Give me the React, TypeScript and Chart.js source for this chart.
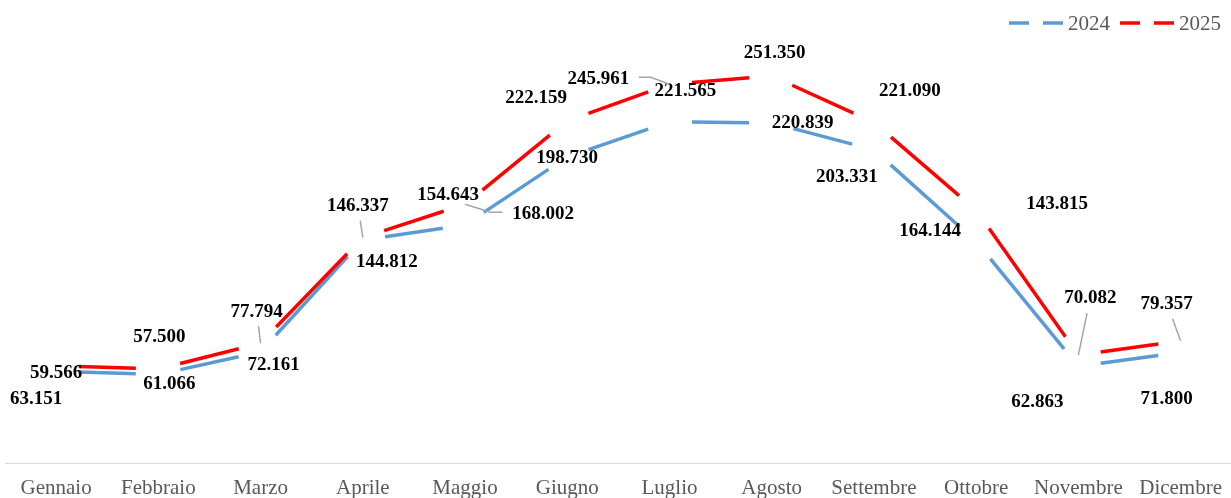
import React, { useEffect, useRef } from 'react';
import { Chart, registerables } from 'chart.js';

Chart.register(...registerables);

// ---------- data ----------
const months = ['Gennaio', 'Febbraio', 'Marzo', 'Aprile', 'Maggio', 'Giugno', 'Luglio', 'Agosto', 'Settembre', 'Ottobre', 'Novembre', 'Dicembre'];
const seriesNames = ['2024', '2025'];
const values2024 = [59566, 57500, 72161, 144812, 154643, 198730, 221565, 220839, 203331, 143815, 62863, 71800];
const values2025 = [63151, 61066, 77794, 146337, 168002, 222159, 245961, 251350, 221090, 164144, 70082, 79357];
const yMin = 0;
const yMax = 300000;

// ---------- label placement (pixel offsets from each point) ----------
const labelOffsets2024 = [[0, 0], [1, -39], [13, 12], [24, 21], [-17, -31], [0, 0], [16, -32], [31, -1], [-27, 26], [81, -39], [-41, 34], [-14, 45]];
const labelOffsets2025 = [[-20, 32], [11, 14], [-4, -33], [-5, -33], [78, 8], [-31, -24], [-71, -7], [3, -24], [36, -33], [-46, 19], [12, -58], [-14, -38]];
const leaders2024 = [false, false, false, false, false, false, false, false, false, false, false, false];
const leaders2025 = [false, false, true, true, true, false, true, false, false, false, true, true];

// ---------- styles ----------
const colors = ['#5B9BD5', '#FF0000'];
const axisTextColor = '#595959';
const labelFont = 'bold 19px "Liberation Serif", "Times New Roman", serif';
const legendFont = '21px "Liberation Serif", "Times New Roman", serif';
const GAP = 22.5;
const LABEL_BASELINE_SHIFT = 1.5;
const LEGEND_RIGHT = 1221;

const fmt = (n: number) => String(n).replace(/\B(?=(\d{3})+(?!\d))/g, '.');

const gapDash = (ctx: any) => {
  const dx = ctx.p1.x - ctx.p0.x;
  const dy = ctx.p1.y - ctx.p0.y;
  const L = Math.hypot(dx, dy);
  if (L <= 2 * GAP) return [0, L + 1];
  return [0, GAP, L - 2 * GAP, GAP];
};

const labelsPlugin = {
  id: 'customLabels',
  afterDatasetsDraw(chart: any) {
    const ctx = chart.ctx;
    const offsets = [labelOffsets2024, labelOffsets2025];
    const leaders = [leaders2024, leaders2025];
    const data = [values2024, values2025];
    ctx.save();
    ctx.font = labelFont;
    ctx.textAlign = 'center';
    ctx.textBaseline = 'middle';
    for (let d = 0; d < 2; d++) {
      const meta = chart.getDatasetMeta(d);
      meta.data.forEach((pt: any, i: number) => {
        const [ox, oy] = offsets[d][i];
        const cx = pt.x + ox;
        const cy = pt.y + oy;
        const text = fmt(data[d][i]);
        const w = ctx.measureText(text).width;
        if (leaders[d][i]) {
          const hw = w / 2 + 9.5;
          const hh = 16;
          const dx = pt.x - cx;
          const dy = pt.y - cy;
          const tx = Math.abs(dx) > 0 ? hw / Math.abs(dx) : Infinity;
          const ty = Math.abs(dy) > 0 ? hh / Math.abs(dy) : Infinity;
          ctx.save();
          ctx.strokeStyle = '#A6A6A6';
          ctx.lineWidth = 1.5;
          ctx.beginPath();
          if (tx < ty) {
            const sx = cx + Math.sign(dx) * hw;
            ctx.moveTo(sx, cy);
            ctx.lineTo(sx + Math.sign(dx) * 12, cy);
            ctx.lineTo(pt.x, pt.y);
          } else {
            ctx.moveTo(cx + dx * ty, cy + dy * ty);
            ctx.lineTo(pt.x, pt.y);
          }
          ctx.stroke();
          ctx.restore();
        }
        ctx.fillStyle = '#000000';
        ctx.fillText(text, cx, cy + LABEL_BASELINE_SHIFT);
      });
    }
    ctx.restore();
  },
};

const legendPlugin = {
  id: 'customLegend',
  afterDraw(chart: any) {
    const ctx = chart.ctx;
    ctx.save();
    ctx.font = legendFont;
    const lineLen = 54;
    const textGap = 5;
    const itemGap = 10;
    const widths = seriesNames.map((s) => ctx.measureText(s).width);
    const total = widths.reduce((a, b) => a + b + lineLen + textGap, 0) + itemGap * (seriesNames.length - 1);
    let x = LEGEND_RIGHT - total;
    const y = 23;
    seriesNames.forEach((s, i) => {
      ctx.strokeStyle = colors[i];
      ctx.lineWidth = 3.5;
      ctx.lineCap = 'butt';
      ctx.setLineDash([20, 14]);
      ctx.beginPath();
      ctx.moveTo(x, y);
      ctx.lineTo(x + lineLen, y);
      ctx.stroke();
      ctx.setLineDash([]);
      ctx.fillStyle = axisTextColor;
      ctx.textAlign = 'left';
      ctx.textBaseline = 'middle';
      ctx.fillText(s, x + lineLen + textGap, y + 1);
      x += lineLen + textGap + widths[i] + itemGap;
    });
    ctx.restore();
  },
};

export default function App() {
  const ref = useRef<HTMLCanvasElement | null>(null);
  useEffect(() => {
    if (!ref.current) return;
    const chart = new Chart(ref.current, {
      type: 'line',
      data: {
        labels: months,
        datasets: [
          {
            label: seriesNames[0],
            data: values2024,
            borderColor: colors[0],
            backgroundColor: colors[0],
            borderWidth: 3.5,
            pointRadius: 0,
            pointHoverRadius: 0,
            tension: 0,
            order: 1,
            borderCapStyle: 'butt',
            segment: { borderDash: gapDash },
          },
          {
            label: seriesNames[1],
            data: values2025,
            borderColor: colors[1],
            backgroundColor: colors[1],
            borderWidth: 3.5,
            pointRadius: 0,
            pointHoverRadius: 0,
            tension: 0,
            order: 0,
            borderCapStyle: 'butt',
            segment: { borderDash: gapDash },
          },
        ],
      },
      options: {
        animation: false,
        responsive: true,
        maintainAspectRatio: false,
        layout: { padding: { left: 5, right: 0, top: 1, bottom: 0 } },
        plugins: {
          legend: { display: false },
          tooltip: { enabled: false },
        },
        scales: {
          x: {
            offset: true,
            grid: { display: false, drawTicks: false },
            border: { display: true, color: '#D9D9D9', width: 1 },
            ticks: {
              color: axisTextColor,
              font: { family: '"Liberation Serif", "Times New Roman", serif', size: 21, lineHeight: 1 },
              padding: 15,
              autoSkip: false,
              maxRotation: 0,
              minRotation: 0,
            },
          },
          y: {
            display: false,
            min: yMin,
            max: yMax,
          },
        },
      },
      plugins: [labelsPlugin, legendPlugin],
    } as any);
    return () => chart.destroy();
  }, []);
  return (
    <div style={{ position: 'fixed', left: 0, top: 0, width: 1237, height: 514, background: '#ffffff' }}>
      <canvas ref={ref} />
    </div>
  );
}
